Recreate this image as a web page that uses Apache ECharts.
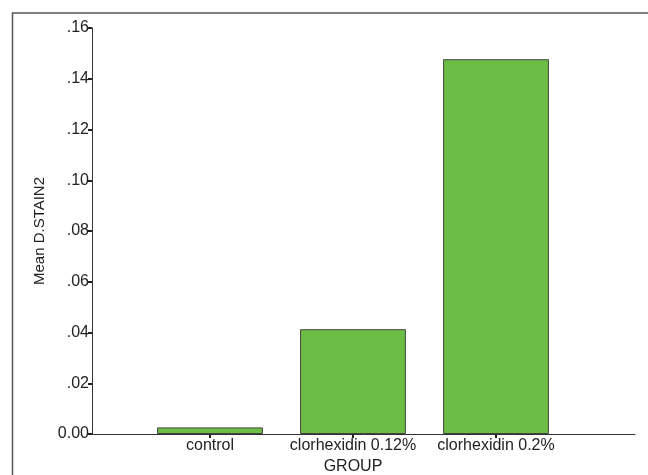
<!DOCTYPE html>
<html>
<head>
<meta charset="utf-8">
<script src="https://cdn.jsdelivr.net/npm/echarts@6/dist/echarts.min.js"></script>
<style>html,body{margin:0;padding:0;background:#fff}#c{width:648px;height:475px}</style>
</head>
<body>
<div id="c"></div>
<script>
const categories = ['control', 'clorhexidin 0.12%', 'clorhexidin 0.2%'];
const meanStain = [0.0026, 0.0413, 0.1477];
const yMin = 0, yMax = 0.16, yStep = 0.02;
const xTitle = 'GROUP';
const yTitle = 'Mean D.STAIN2';

const font = '"Liberation Sans", Arial, sans-serif';
const fs = 16;
const chart = echarts.init(document.getElementById('c'), null, {renderer: 'canvas'});
const fmt = v => (Math.abs(v) < 1e-9 ? '0.00' : v.toFixed(2).replace(/^0/, ''));

chart.setOption({
  animation: false,
  backgroundColor: '#fff',
  graphic: [{
    type: 'rect', silent: true,
    shape: {x: 12.5, y: 13, width: 700, height: 500},
    style: {fill: 'none', stroke: '#555', lineWidth: 1.5}
  }],
  grid: [
    {left: 92, right: 13, top: 28, bottom: 41, containLabel: false, outerBoundsMode: 'none'},
    {left: 138.5, right: 80.5, top: 28, bottom: 41, containLabel: false, outerBoundsMode: 'none'}
  ],
  xAxis: [
    {gridIndex: 0, type: 'category', data: categories.map(() => ''),
     axisLine: {lineStyle: {color: '#333', width: 1}}, axisTick: {show: false},
     axisLabel: {show: false}, splitLine: {show: false}},
    {gridIndex: 1, type: 'category', data: categories,
     axisLine: {show: false},
     axisTick: {show: true, alignWithLabel: true, length: 4, lineStyle: {color: '#222', width: 2}},
     axisLabel: {color: '#222', fontFamily: font, fontSize: fs, margin: 4, lineHeight: 16,
                 interval: 0, hideOverlap: false},
     name: xTitle, nameLocation: 'middle', nameGap: 19,
     nameTextStyle: {color: '#222', fontFamily: font, fontSize: fs, lineHeight: 16, verticalAlign: 'top'}}
  ],
  yAxis: [
    {gridIndex: 0, type: 'value', min: yMin, max: yMax, interval: yStep,
     axisLine: {show: true, lineStyle: {color: '#333', width: 1}},
     axisTick: {show: true, length: 4, lineStyle: {color: '#222', width: 2}},
     axisLabel: {color: '#222', fontFamily: font, fontSize: fs, margin: 3, formatter: fmt},
     splitLine: {show: false},
     name: yTitle, nameLocation: 'middle', nameGap: 40, nameRotate: 90,
     nameTextStyle: {color: '#222', fontFamily: font, fontSize: 15}},
    {gridIndex: 1, type: 'value', min: yMin, max: yMax, interval: yStep, show: false}
  ],
  series: [{
    type: 'bar', xAxisIndex: 1, yAxisIndex: 1,
    data: meanStain, barWidth: '74%',
    itemStyle: {color: '#6cbd45', borderColor: '#444', borderWidth: 1}
  }]
});
</script>
</body>
</html>
